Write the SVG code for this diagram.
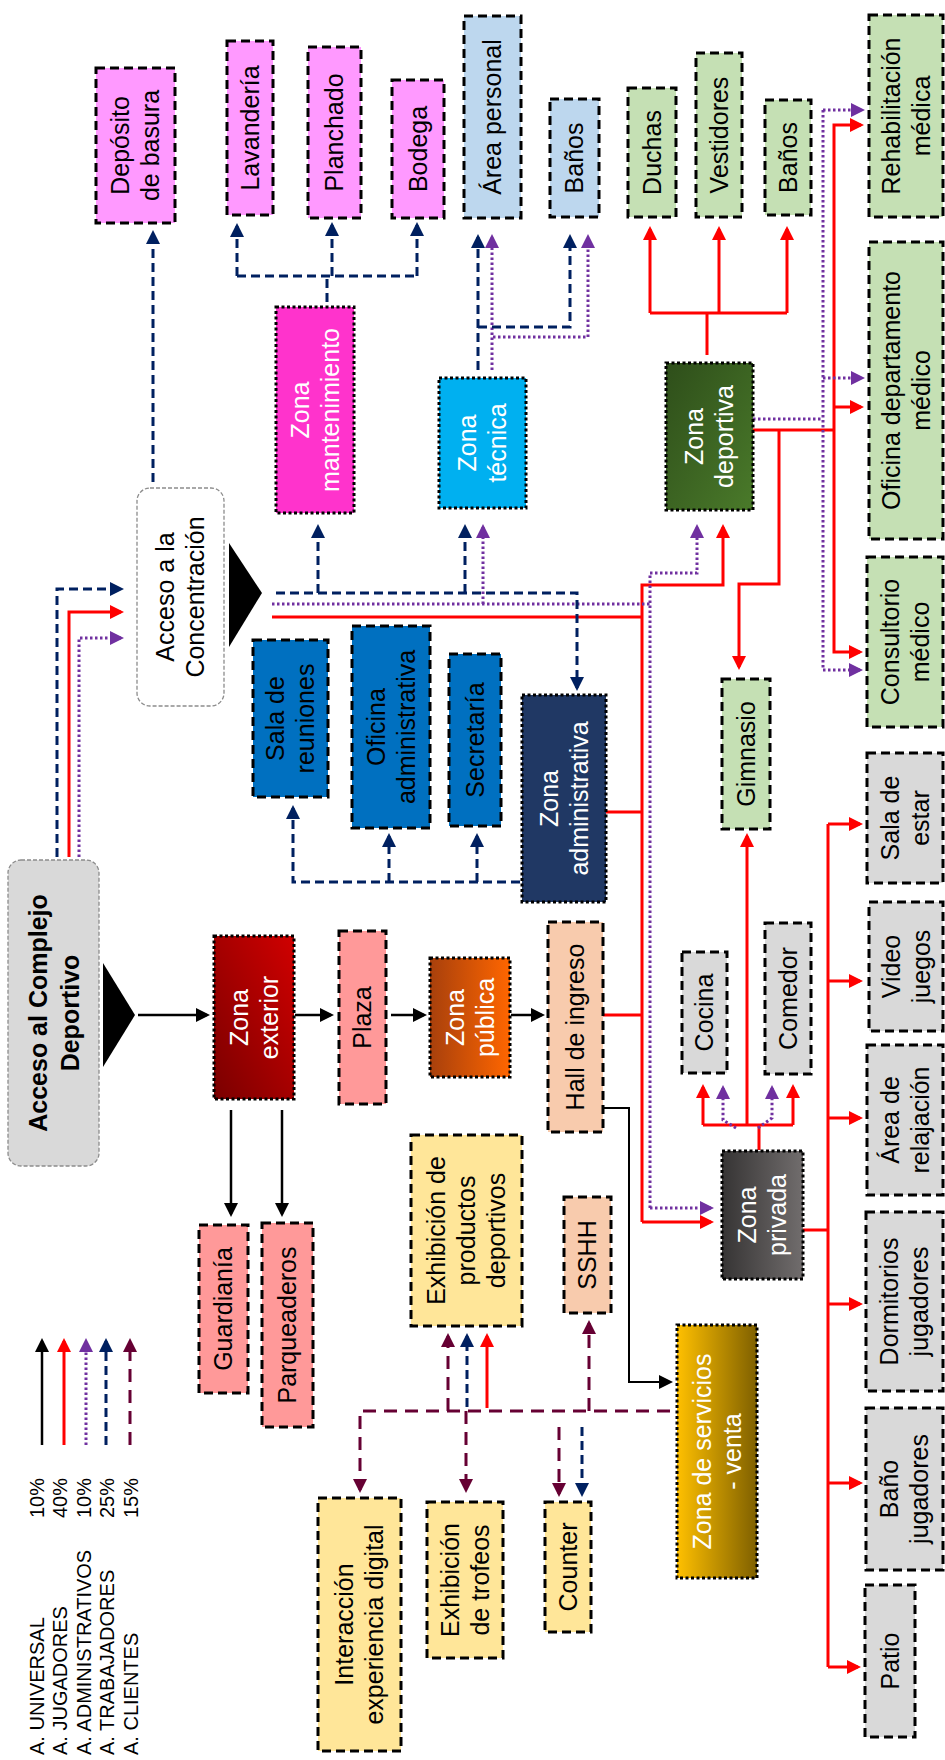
<svg xmlns="http://www.w3.org/2000/svg" width="945" height="1760" viewBox="0 0 945 1760">
<style>
.t{font-family:"Liberation Sans",Arial,sans-serif;font-size:25px;text-anchor:middle;fill:#000}
.w{fill:#fff}
.b{font-weight:bold}
.lg{font-family:"Liberation Sans",Arial,sans-serif;font-size:20px;fill:#000}
.dsh{stroke:#000;stroke-width:3;stroke-dasharray:9 5}
.dot{stroke:#000;stroke-width:3;stroke-dasharray:3 2.5}
.acc{stroke:#8c8c8c;stroke-width:1.3;stroke-dasharray:4 2}
.c{fill:none}
.k{stroke:#000;stroke-width:2.5}
.r{stroke:#FF0000;stroke-width:3}
.p{stroke:#7030A0;stroke-width:3;stroke-dasharray:2.5 2.5}
.n{stroke:#002060;stroke-width:3;stroke-dasharray:9 5}
.m{stroke:#660033;stroke-width:3;stroke-dasharray:13 8}
</style>
<defs>
<marker id="ak" viewBox="0 0 14 14" refX="11" refY="7" markerWidth="14" markerHeight="14" markerUnits="userSpaceOnUse" orient="auto"><path d="M0,0 L14,7 L0,14 z" fill="#000"/></marker>
<marker id="ar" viewBox="0 0 14 14" refX="11" refY="7" markerWidth="14" markerHeight="14" markerUnits="userSpaceOnUse" orient="auto"><path d="M0,0 L14,7 L0,14 z" fill="#FF0000"/></marker>
<marker id="ap" viewBox="0 0 14 14" refX="11" refY="7" markerWidth="14" markerHeight="14" markerUnits="userSpaceOnUse" orient="auto"><path d="M0,0 L14,7 L0,14 z" fill="#7030A0"/></marker>
<marker id="an" viewBox="0 0 14 14" refX="11" refY="7" markerWidth="14" markerHeight="14" markerUnits="userSpaceOnUse" orient="auto"><path d="M0,0 L14,7 L0,14 z" fill="#002060"/></marker>
<marker id="am" viewBox="0 0 14 14" refX="11" refY="7" markerWidth="14" markerHeight="14" markerUnits="userSpaceOnUse" orient="auto"><path d="M0,0 L14,7 L0,14 z" fill="#660033"/></marker>
<linearGradient id="gExt" x1="0" y1="1" x2="1" y2="0"><stop offset="0" stop-color="#7A0000"/><stop offset="1" stop-color="#D00000"/></linearGradient>
<linearGradient id="gPub" x1="0" y1="0" x2="1" y2="0"><stop offset="0" stop-color="#A8400C"/><stop offset="1" stop-color="#FF6600"/></linearGradient>
<linearGradient id="gDep" x1="0" y1="0" x2="1" y2="1"><stop offset="0" stop-color="#2E4E1A"/><stop offset="1" stop-color="#4A7A2A"/></linearGradient>
<linearGradient id="gPri" x1="0" y1="0" x2="1" y2="0"><stop offset="0" stop-color="#363434"/><stop offset="1" stop-color="#716D6D"/></linearGradient>
<linearGradient id="gSer" x1="0" y1="0" x2="1" y2="0"><stop offset="0" stop-color="#FFC000"/><stop offset="1" stop-color="#7F6000"/></linearGradient>
</defs>

<g id="connectors" class="c">
<!-- universal -->
<path class="k" d="M138 1015 H207" marker-end="url(#ak)"/>
<path class="k" d="M295 1015 H331" marker-end="url(#ak)"/>
<path class="k" d="M391 1015 H424" marker-end="url(#ak)"/>
<path class="k" d="M511 1015 H542" marker-end="url(#ak)"/>
<path class="k" d="M231 1110 V1214" marker-end="url(#ak)"/>
<path class="k" d="M282 1110 V1214" marker-end="url(#ak)"/>
<path class="k" style="stroke-width:2" d="M603 1108 H629 V1382 H670" marker-end="url(#ak)"/>
<!-- jugadores -->
<path class="r" d="M69 857 V612 H121" marker-end="url(#ar)"/>
<path class="r" d="M272 617 H642"/>
<path class="r" d="M642 1222 V585 H723 V527" marker-end="url(#ar)"/>
<path class="r" d="M642 1222 H711" marker-end="url(#ar)"/>
<path class="r" d="M606 812 H642"/>
<path class="r" d="M603 1015 H642"/>
<path class="r" d="M707 355 V313 M650 313 H787"/>
<path class="r" d="M650 313 V229" marker-end="url(#ar)"/>
<path class="r" d="M719 313 V229" marker-end="url(#ar)"/>
<path class="r" d="M787 313 V229" marker-end="url(#ar)"/>
<path class="r" d="M753 430 H834"/>
<path class="r" d="M834 430 V125 H861" marker-end="url(#ar)"/>
<path class="r" d="M834 407 H861" marker-end="url(#ar)"/>
<path class="r" d="M834 430 V652 H860" marker-end="url(#ar)"/>
<path class="r" d="M779 430 V584 H739 V667" marker-end="url(#ar)"/>
<path class="r" d="M759 1150 V1125 M703 1125 H793"/>
<path class="r" d="M703 1125 V1087" marker-end="url(#ar)"/>
<path class="r" d="M793 1125 V1087" marker-end="url(#ar)"/>
<path class="r" d="M747 1125 V836" marker-end="url(#ar)"/>
<path class="r" d="M803 1230 H828 M828 824 V1667"/>
<path class="r" d="M828 824 H860" marker-end="url(#ar)"/>
<path class="r" d="M828 981 H860" marker-end="url(#ar)"/>
<path class="r" d="M828 1118 H860" marker-end="url(#ar)"/>
<path class="r" d="M828 1304 H860" marker-end="url(#ar)"/>
<path class="r" d="M828 1483 H860" marker-end="url(#ar)"/>
<path class="r" d="M828 1667 H858" marker-end="url(#ar)"/>
<path class="r" d="M487 1408 V1336" marker-end="url(#ar)"/>
<!-- administrativos -->
<path class="p" d="M79 857 V638 H121" marker-end="url(#ap)"/>
<path class="p" d="M272 604 H650"/>
<path class="p" d="M650 1208 V573 H697 V527" marker-end="url(#ap)"/>
<path class="p" d="M650 1208 H711" marker-end="url(#ap)"/>
<path class="p" d="M483 604 V527" marker-end="url(#ap)"/>
<path class="p" d="M492 370 V237" marker-end="url(#ap)"/>
<path class="p" d="M493 337 H588 V237" marker-end="url(#ap)"/>
<path class="p" d="M753 419 H823 M823 110 V670"/>
<path class="p" d="M823 110 H862" marker-end="url(#ap)"/>
<path class="p" d="M823 378 H862" marker-end="url(#ap)"/>
<path class="p" d="M823 670 H860" marker-end="url(#ap)"/>
<path class="p" d="M736 1128 L723 1120 V1088" marker-end="url(#ap)"/>
<path class="p" d="M758 1128 L772 1118 V1088" marker-end="url(#ap)"/>
<!-- trabajadores -->
<path class="n" d="M57 857 V589 H121" marker-end="url(#an)"/>
<path class="n" d="M276 593 H577 V688" marker-end="url(#an)"/>
<path class="n" d="M318 593 V527" marker-end="url(#an)"/>
<path class="n" d="M465 593 V527" marker-end="url(#an)"/>
<path class="n" d="M153 482 V233" marker-end="url(#an)"/>
<path class="n" d="M327 302 V276 M237 276 H417"/>
<path class="n" d="M237 276 V226" marker-end="url(#an)"/>
<path class="n" d="M332 276 V225" marker-end="url(#an)"/>
<path class="n" d="M417 276 V225" marker-end="url(#an)"/>
<path class="n" d="M478 370 V237" marker-end="url(#an)"/>
<path class="n" d="M478 327 H570 V237" marker-end="url(#an)"/>
<path class="n" d="M520 882 H293 V808" marker-end="url(#an)"/>
<path class="n" d="M389 882 V836" marker-end="url(#an)"/>
<path class="n" d="M477 882 V836" marker-end="url(#an)"/>
<path class="n" d="M467 1407 V1336" marker-end="url(#an)"/>
<path class="n" d="M582 1427 V1494" marker-end="url(#an)"/>
<!-- clientes -->
<path class="m" d="M670 1411 H360 V1490" marker-end="url(#am)"/>
<path class="m" d="M448 1411 V1336" marker-end="url(#am)"/>
<path class="m" d="M466 1411 V1490" marker-end="url(#am)"/>
<path class="m" d="M589 1411 V1323" marker-end="url(#am)"/>
<path class="m" d="M559 1427 V1494" marker-end="url(#am)"/>
</g>

<g id="legend">
<path class="c k" d="M42 1445 V1341" marker-end="url(#ak)"/>
<path class="c r" d="M64 1445 V1341" marker-end="url(#ar)"/>
<path class="c p" d="M86 1445 V1341" marker-end="url(#ap)"/>
<path class="c n" d="M106 1445 V1341" marker-end="url(#an)"/>
<path class="c m" d="M130 1445 V1341" marker-end="url(#am)"/>
<text class="lg" transform="translate(43.5,1518) rotate(-90)">10%</text>
<text class="lg" transform="translate(67,1518) rotate(-90)">40%</text>
<text class="lg" transform="translate(90.5,1518) rotate(-90)">10%</text>
<text class="lg" transform="translate(114,1518) rotate(-90)">25%</text>
<text class="lg" transform="translate(137.5,1518) rotate(-90)">15%</text>
<text class="lg" transform="translate(43.5,1755) rotate(-90)">A. UNIVERSAL</text>
<text class="lg" transform="translate(67,1755) rotate(-90)">A. JUGADORES</text>
<text class="lg" transform="translate(90.5,1755) rotate(-90)">A. ADMINISTRATIVOS</text>
<text class="lg" transform="translate(114,1755) rotate(-90)">A. TRABAJADORES</text>
<text class="lg" transform="translate(137.5,1755) rotate(-90)">A. CLIENTES</text>
</g>

<g id="acceso_complejo">
<rect x="8" y="860" width="91" height="306" rx="13" fill="#D9D9D9" class="acc"/>
<text class="t b" transform="translate(53.5,1013) rotate(-90)"><tspan x="0" y="-7">Acceso al Complejo</tspan><tspan x="0" y="25">Deportivo</tspan></text>
<path d="M103 963 L135 1015 L103 1067 z" fill="#000"/>
</g>
<g id="acceso_concentracion">
<rect x="137" y="488" width="87" height="218" rx="13" fill="#fff" class="acc"/>
<text class="t" transform="translate(180.5,597) rotate(-90)"><tspan x="0" y="-6.25">Acceso a la</tspan><tspan x="0" y="23.75">Concentración</tspan></text>
<path d="M229 543 L262 593 L229 647 z" fill="#000"/>
</g>

<g id="deposito"><rect x="96" y="68" width="79" height="155" fill="#FF99FF" class="dsh"/><text class="t" transform="translate(135.5,145.5) rotate(-90)"><tspan x="0" y="-6.25">Depósito</tspan><tspan x="0" y="23.75">de basura</tspan></text></g>
<g id="lavanderia"><rect x="227" y="41" width="46" height="174" fill="#FF99FF" class="dsh"/><text class="t" transform="translate(250,128) rotate(-90)"><tspan x="0" y="8.75">Lavandería</tspan></text></g>
<g id="planchado"><rect x="308" y="47" width="53" height="171" fill="#FF99FF" class="dsh"/><text class="t" transform="translate(334.5,132.5) rotate(-90)"><tspan x="0" y="8.75">Planchado</tspan></text></g>
<g id="bodega"><rect x="392" y="80" width="52" height="138" fill="#FF99FF" class="dsh"/><text class="t" transform="translate(418,149) rotate(-90)"><tspan x="0" y="8.75">Bodega</tspan></text></g>
<g id="area_personal"><rect x="464" y="16" width="57" height="202" fill="#BDD7EE" class="dsh"/><text class="t" transform="translate(492.5,117) rotate(-90)"><tspan x="0" y="8.75">Área personal</tspan></text></g>
<g id="banos_tecnica"><rect x="550" y="99" width="49" height="118" fill="#BDD7EE" class="dsh"/><text class="t" transform="translate(574.5,158) rotate(-90)"><tspan x="0" y="8.75">Baños</tspan></text></g>
<g id="duchas"><rect x="628" y="88" width="48" height="129" fill="#C5E0B4" class="dsh"/><text class="t" transform="translate(652,152.5) rotate(-90)"><tspan x="0" y="8.75">Duchas</tspan></text></g>
<g id="vestidores"><rect x="696" y="53" width="46" height="164" fill="#C5E0B4" class="dsh"/><text class="t" transform="translate(719,135) rotate(-90)"><tspan x="0" y="8.75">Vestidores</tspan></text></g>
<g id="banos_deportiva"><rect x="765" y="100" width="46" height="115" fill="#C5E0B4" class="dsh"/><text class="t" transform="translate(788,157.5) rotate(-90)"><tspan x="0" y="8.75">Baños</tspan></text></g>
<g id="rehabilitacion"><rect x="869" y="15" width="74" height="202" fill="#C5E0B4" class="dsh"/><text class="t" transform="translate(906,116) rotate(-90)"><tspan x="0" y="-6.25">Rehabilitación</tspan><tspan x="0" y="23.75">médica</tspan></text></g>
<g id="oficina_medico"><rect x="869" y="242" width="74" height="297" fill="#C5E0B4" class="dsh"/><text class="t" transform="translate(906,390.5) rotate(-90)"><tspan x="0" y="-6.25">Oficina departamento</tspan><tspan x="0" y="23.75">médico</tspan></text></g>
<g id="consultorio"><rect x="867" y="557" width="76" height="170" fill="#C5E0B4" class="dsh"/><text class="t" transform="translate(905,642) rotate(-90)"><tspan x="0" y="-6.25">Consultorio</tspan><tspan x="0" y="23.75">médico</tspan></text></g>
<g id="sala_estar"><rect x="867" y="753" width="76" height="130" fill="#D9D9D9" class="dsh"/><text class="t" transform="translate(905,818) rotate(-90)"><tspan x="0" y="-6.25">Sala de</tspan><tspan x="0" y="23.75">estar</tspan></text></g>
<g id="video_juegos"><rect x="869" y="902" width="74" height="129" fill="#D9D9D9" class="dsh"/><text class="t" transform="translate(906,966.5) rotate(-90)"><tspan x="0" y="-6.25">Video</tspan><tspan x="0" y="23.75">juegos</tspan></text></g>
<g id="area_relajacion"><rect x="867" y="1045" width="76" height="150" fill="#D9D9D9" class="dsh"/><text class="t" transform="translate(905,1120) rotate(-90)"><tspan x="0" y="-6.25">Área de</tspan><tspan x="0" y="23.75">relajación</tspan></text></g>
<g id="dormitorios"><rect x="866" y="1212" width="77" height="179" fill="#D9D9D9" class="dsh"/><text class="t" transform="translate(904.5,1301.5) rotate(-90)"><tspan x="0" y="-6.25">Dormitorios</tspan><tspan x="0" y="23.75">jugadores</tspan></text></g>
<g id="bano_jugadores"><rect x="866" y="1408" width="77" height="162" fill="#D9D9D9" class="dsh"/><text class="t" transform="translate(904.5,1489) rotate(-90)"><tspan x="0" y="-6.25">Baño</tspan><tspan x="0" y="23.75">jugadores</tspan></text></g>
<g id="patio"><rect x="865" y="1585" width="50" height="152" fill="#D9D9D9" class="dsh"/><text class="t" transform="translate(890,1661) rotate(-90)"><tspan x="0" y="8.75">Patio</tspan></text></g>

<g id="zona_mantenimiento"><rect x="276" y="307" width="78" height="206" fill="#FF33CC" class="dot"/><text class="t w" transform="translate(315,410) rotate(-90)"><tspan x="0" y="-6.25">Zona</tspan><tspan x="0" y="23.75">mantenimiento</tspan></text></g>
<g id="zona_tecnica"><rect x="439" y="378" width="87" height="130" fill="#00B0F0" class="dot"/><text class="t w" transform="translate(482.5,443) rotate(-90)"><tspan x="0" y="-6.25">Zona</tspan><tspan x="0" y="23.75">técnica</tspan></text></g>
<g id="zona_deportiva"><rect x="666" y="363" width="87" height="147" fill="url(#gDep)" class="dot"/><text class="t w" transform="translate(709.5,436.5) rotate(-90)"><tspan x="0" y="-6.25">Zona</tspan><tspan x="0" y="23.75">deportiva</tspan></text></g>

<g id="sala_reuniones"><rect x="253" y="640" width="75" height="157" fill="#0070C0" class="dsh"/><text class="t" transform="translate(290.5,718.5) rotate(-90)"><tspan x="0" y="-6.25">Sala de</tspan><tspan x="0" y="23.75">reuniones</tspan></text></g>
<g id="oficina_administrativa"><rect x="352" y="626" width="78" height="202" fill="#0070C0" class="dsh"/><text class="t" transform="translate(391,727) rotate(-90)"><tspan x="0" y="-6.25">Oficina</tspan><tspan x="0" y="23.75">administrativa</tspan></text></g>
<g id="secretaria"><rect x="449" y="654" width="52" height="172" fill="#0070C0" class="dsh"/><text class="t" transform="translate(475,740) rotate(-90)"><tspan x="0" y="8.75">Secretaría</tspan></text></g>
<g id="zona_administrativa"><rect x="522" y="695" width="84" height="207" fill="#203864" class="dot"/><text class="t w" transform="translate(564,798.5) rotate(-90)"><tspan x="0" y="-6.25">Zona</tspan><tspan x="0" y="23.75">administrativa</tspan></text></g>
<g id="gimnasio"><rect x="722" y="679" width="48" height="150" fill="#C5E0B4" class="dsh"/><text class="t" transform="translate(746,754) rotate(-90)"><tspan x="0" y="8.75">Gimnasio</tspan></text></g>

<g id="zona_exterior"><rect x="214" y="936" width="80" height="163" fill="url(#gExt)" class="dot"/><text class="t w" transform="translate(254,1017.5) rotate(-90)"><tspan x="0" y="-6.25">Zona</tspan><tspan x="0" y="23.75">exterior</tspan></text></g>
<g id="plaza"><rect x="339" y="931" width="47" height="173" fill="#FF9999" class="dsh"/><text class="t" transform="translate(362.5,1017.5) rotate(-90)"><tspan x="0" y="8.75">Plaza</tspan></text></g>
<g id="zona_publica"><rect x="430" y="958" width="80" height="119" fill="url(#gPub)" class="dot"/><text class="t w" transform="translate(470,1017.5) rotate(-90)"><tspan x="0" y="-6.25">Zona</tspan><tspan x="0" y="23.75">pública</tspan></text></g>
<g id="hall_ingreso"><rect x="548" y="922" width="55" height="210" fill="#F8CBAD" class="dsh"/><text class="t" transform="translate(575.5,1027) rotate(-90)"><tspan x="0" y="8.75">Hall de ingreso</tspan></text></g>
<g id="cocina"><rect x="682" y="952" width="45" height="121" fill="#D9D9D9" class="dsh"/><text class="t" transform="translate(704.5,1012.5) rotate(-90)"><tspan x="0" y="8.75">Cocina</tspan></text></g>
<g id="comedor"><rect x="765" y="923" width="46" height="151" fill="#D9D9D9" class="dsh"/><text class="t" transform="translate(788,998.5) rotate(-90)"><tspan x="0" y="8.75">Comedor</tspan></text></g>
<g id="zona_privada"><rect x="722" y="1151" width="81" height="128" fill="url(#gPri)" class="dot"/><text class="t w" transform="translate(762.5,1215) rotate(-90)"><tspan x="0" y="-6.25">Zona</tspan><tspan x="0" y="23.75">privada</tspan></text></g>
<g id="guardiania"><rect x="199" y="1225" width="49" height="168" fill="#FF9999" class="dsh"/><text class="t" transform="translate(223.5,1309) rotate(-90)"><tspan x="0" y="8.75">Guardianía</tspan></text></g>
<g id="parqueaderos"><rect x="262" y="1223" width="51" height="204" fill="#FF9999" class="dsh"/><text class="t" transform="translate(287.5,1325) rotate(-90)"><tspan x="0" y="8.75">Parqueaderos</tspan></text></g>
<g id="exhibicion_productos"><rect x="411" y="1135" width="111" height="191" fill="#FFE699" class="dsh"/><text class="t" transform="translate(466.5,1230.5) rotate(-90)"><tspan x="0" y="-21.25">Exhibición de</tspan><tspan x="0" y="8.75">productos</tspan><tspan x="0" y="38.75">deportivos</tspan></text></g>
<g id="sshh"><rect x="564" y="1197" width="47" height="116" fill="#F8CBAD" class="dsh"/><text class="t" transform="translate(587.5,1255) rotate(-90)"><tspan x="0" y="8.75">SSHH</tspan></text></g>
<g id="zona_servicios"><rect x="677" y="1325" width="80" height="253" fill="url(#gSer)" class="dot"/><text class="t w" transform="translate(717,1451.5) rotate(-90)"><tspan x="0" y="-6.25">Zona de servicios</tspan><tspan x="0" y="23.75">- venta</tspan></text></g>
<g id="interaccion"><rect x="318" y="1498" width="83" height="253" fill="#FFE699" class="dsh"/><text class="t" transform="translate(359.5,1624.5) rotate(-90)"><tspan x="0" y="-6.25">Interacción</tspan><tspan x="0" y="23.75">experiencia digital</tspan></text></g>
<g id="exhibicion_trofeos"><rect x="427" y="1502" width="76" height="156" fill="#FFE699" class="dsh"/><text class="t" transform="translate(465,1580) rotate(-90)"><tspan x="0" y="-6.25">Exhibición</tspan><tspan x="0" y="23.75">de trofeos</tspan></text></g>
<g id="counter"><rect x="545" y="1502" width="46" height="130" fill="#FFE699" class="dsh"/><text class="t" transform="translate(568,1567) rotate(-90)"><tspan x="0" y="8.75">Counter</tspan></text></g>
</svg>
